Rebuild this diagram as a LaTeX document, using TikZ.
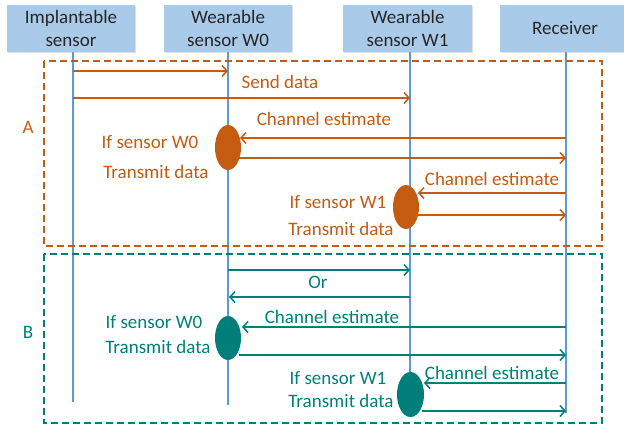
\documentclass[tikz,border=0pt]{standalone}
\usepackage{fontspec}
\setmainfont{Carlito}
\usetikzlibrary{arrows.meta,shapes.geometric,shadows}
\definecolor{ora}{HTML}{C55A11}
\definecolor{tea}{HTML}{007F7A}
\definecolor{hdr}{HTML}{A9CBE9}
\definecolor{life}{HTML}{5B9BD5}
\begin{document}
\begin{tikzpicture}[x=1pt,y=-1pt,
  font=\fontsize{19}{23}\selectfont,
  hdrbox/.style={fill=hdr,draw=none,minimum height=47pt,align=center,text=black!85,
     drop shadow={shadow xshift=1pt,shadow yshift=-1pt,opacity=0.25}},
  lifeline/.style={draw=life,line width=1.3pt},
  frameA/.style={draw=ora,line width=1.2pt,dash pattern=on 7pt off 4pt},
  frameB/.style={draw=tea,line width=1.2pt,dash pattern=on 7pt off 4pt},
  msg/.style={line width=1.5pt,-{Straight Barb[length=5pt,width=11pt,line width=1.5pt]}},
  actor/.style={ellipse,minimum width=26pt,minimum height=45pt,inner sep=0pt},
  lbl/.style={inner sep=0pt,anchor=center}
]
\useasboundingbox (0,0) rectangle (624,428);
% header boxes
\node[hdrbox,minimum width=128pt] (hI) at (71,28.5) {Implantable\\sensor};
\node[hdrbox,minimum width=128pt] (hW0) at (228,28.5) {Wearable\\sensor W0};
\node[hdrbox,minimum width=129pt] (hW1) at (407.5,28.5) {Wearable\\sensor W1};
\node[hdrbox,minimum width=130pt] (hR) at (565,28.5) {Receiver};
% lifeline ends
\coordinate (eI) at (73,402);
\coordinate (eW0) at (228,405);
\coordinate (eW1) at (410,417);
\coordinate (eR) at (566,413);
\draw[lifeline] (73,52) -- (eI);
\draw[lifeline] (hW0.south) -- (eW0);
\draw[lifeline] (410,52) -- (eW1);
\draw[lifeline] (566,52) -- (eR);
% frames
\draw[frameA] (44,61) rectangle (602,246);
\draw[frameB] (44,254) rectangle (602,423);
\node[lbl,text=ora] (lA) at (28,127) {A};
\node[lbl,text=tea] (lB) at (28,332) {B};
% actor ellipses
\node[actor,fill=ora] (A0) at (228,147.5) {};
\node[actor,fill=ora,minimum height=44pt] (A1) at (406,207) {};
\node[actor,fill=tea,minimum height=44pt] (B0) at (228,338) {};
\node[actor,fill=tea,minimum width=27pt] (B1) at (410.5,394.5) {};
% section A messages
\coordinate (a1s) at (73,71);  \coordinate (a1e) at (228,71);
\coordinate (a2s) at (73,98);  \coordinate (a2e) at (410,98);
\coordinate (a3s) at (566,138); \coordinate (a3e) at (240,138);
\coordinate (a4s) at (239,158); \coordinate (a4e) at (566,158);
\coordinate (a5s) at (566,193); \coordinate (a5e) at (418,193);
\coordinate (a6s) at (418,215); \coordinate (a6e) at (566,215);
\begin{scope}[draw=ora,color=ora]
\draw[msg] (a1s) -- (a1e);
\draw[msg] (a2s) -- (a2e);
\draw[msg] (a3s) -- (a3e);
\draw[msg] (a4s) -- (a4e);
\draw[msg] (a5s) -- (a5e);
\draw[msg] (a6s) -- (a6e);
\node[lbl] (tA1) at (280,82) {Send data};
\node[lbl] (tA2) at (324,119) {Channel estimate};
\node[lbl] (tA3) at (150,142) {If sensor W0};
\node[lbl] (tA4) at (156,172) {Transmit data};
\node[lbl] (tA5) at (492,179) {Channel estimate};
\node[lbl] (tA6) at (338,202) {If sensor W1};
\node[lbl] (tA7) at (341,229) {Transmit data};
\end{scope}
% section B messages
\coordinate (b1s) at (228,270); \coordinate (b1e) at (410,270);
\coordinate (b2s) at (410,297); \coordinate (b2e) at (229,297);
\coordinate (b3s) at (566,327); \coordinate (b3e) at (242,327);
\coordinate (b4s) at (239,355); \coordinate (b4e) at (566,355);
\coordinate (b5s) at (566,383); \coordinate (b5e) at (424,383);
\coordinate (b6s) at (422,411); \coordinate (b6e) at (566,411);
\begin{scope}[draw=tea,color=tea]
\draw[msg] (b1s) -- (b1e);
\draw[msg] (b2s) -- (b2e);
\draw[msg] (b3s) -- (b3e);
\draw[msg] (b4s) -- (b4e);
\draw[msg] (b5s) -- (b5e);
\draw[msg] (b6s) -- (b6e);
\node[lbl] (tB1) at (318,282) {Or};
\node[lbl] (tB2) at (332,317) {Channel estimate};
\node[lbl] (tB3) at (154,322) {If sensor W0};
\node[lbl] (tB4) at (158,347) {Transmit data};
\node[lbl] (tB5) at (492,373) {Channel estimate};
\node[lbl] (tB6) at (338,378) {If sensor W1};
\node[lbl] (tB7) at (341,401) {Transmit data};
\end{scope}
\end{tikzpicture}
\end{document}
